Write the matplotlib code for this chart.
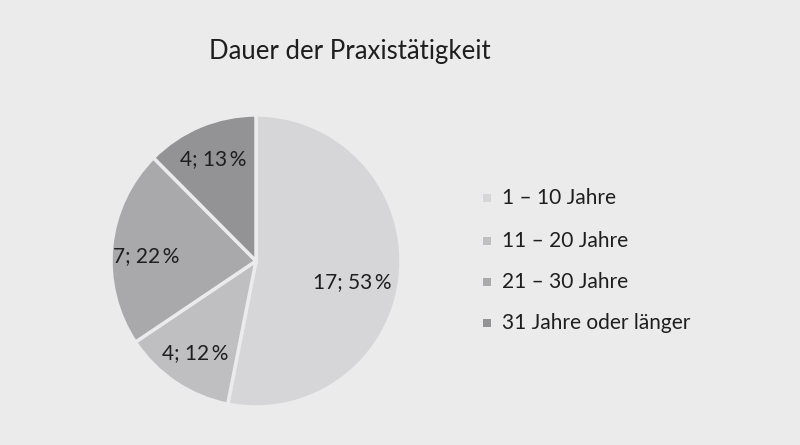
import matplotlib
matplotlib.use("Agg")
import matplotlib.pyplot as plt
from matplotlib.patches import Rectangle
import numpy as np

plt.rcParams['font.family'] = ['Lato', 'DejaVu Sans']

title = "Dauer der Praxistätigkeit"
categories = ["1 – 10 Jahre", "11 – 20 Jahre", "21 – 30 Jahre", "31 Jahre oder länger"]
counts = [17, 4, 7, 4]
percents = [53, 12, 22, 13]
colors = ["#d6d6d8", "#bfbfc1", "#a9a9ab", "#939396"]

bg = "#ebebeb"
fig = plt.figure(figsize=(8, 4.45), dpi=100, facecolor=bg)

ax = fig.add_axes([111/800, (445-407)/445, 290/800, 292/445])
ax.set_facecolor("#ededef")
wedges, _ = ax.pie(counts, colors=colors, startangle=90, counterclock=False,
                   radius=1.0, wedgeprops=dict(edgecolor=bg, linewidth=2.5))
ax.set_xlim(-1.0, 1.0)
ax.set_ylim(-1.0, 1.0)
ax.set_aspect('auto')
for s in ax.spines.values():
    s.set_visible(False)
ax.set_xticks([]); ax.set_yticks([])

# label placement (radius fraction, angular nudge in degrees)
label_r = [0.68, 0.755, 0.755, 0.757]
label_dang = [-6.7, 0.0, 3.0, 0.6]
total = sum(counts)
ang = 90.0
for i, (c, p) in enumerate(zip(counts, percents)):
    span = c / total * 360
    mid = np.deg2rad(ang - span / 2 + label_dang[i])
    ang -= span
    r = label_r[i]
    ax.text(r * np.cos(mid), r * np.sin(mid), f"{c}; {p}\u2009%",
            ha='center', va='center', fontsize=15, color="#1e1e1e")

fig.text(350/800, 1 - 52/445, title, ha='center', va='center',
         fontsize=18.5, color="#1e1e1e")

ys = [198, 241, 282, 323]
for cat, col, y in zip(categories, colors, ys):
    fig.patches.append(Rectangle((483/800, 1 - (y + 4)/445), 8/800, 8/445,
                                 transform=fig.transFigure, facecolor=col,
                                 edgecolor='none'))
    fig.text(502/800, 1 - y/445, cat, ha='left', va='center',
             fontsize=15, color="#1e1e1e")

fig.savefig("out.png", dpi=100, facecolor=bg)
